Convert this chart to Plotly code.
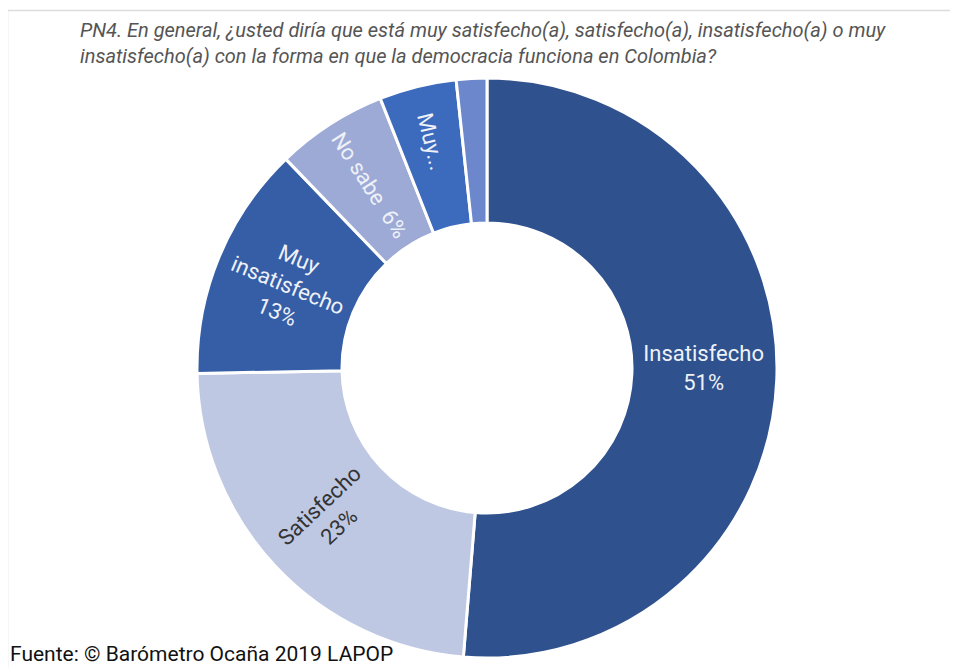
import plotly.graph_objects as go

# page body adds an 8px offset, so figure coordinates are window coordinates minus 8
OFF = 8
W, H = 958 - OFF, 668 - OFF

categories = ["Insatisfecho", "Satisfecho", "Muy insatisfecho", "No sabe", "Muy satisfecho", "No responde"]
values = [51.3, 23.4, 13.1, 6.2, 4.3, 1.7]
display_labels = ["Insatisfecho<br>%{text}", "Satisfecho<br>%{text}", "Muy<br>insatisfecho<br>%{text}",
                  "No sabe  %{text}", "Muy...", ""]
pct_labels = ["51%", "23%", "13%", "6%", "4%", "2%"]
colors = ["#2f518d", "#bec8e3", "#365ea6", "#9eaad6", "#3c6abd", "#6c87cc"]
text_colors = ["#eef1f8", "#333333", "#eef1f8", "#eef1f8", "#eef1f8", "#eef1f8"]

title_text = ("PN4. En general, ¿usted diría que está muy satisfecho(a), satisfecho(a), insatisfecho(a) o muy<br>"
              "insatisfecho(a) con la forma en que la democracia funciona en Colombia?")
source_text = "Fuente: © Barómetro Ocaña 2019 LAPOP"

cx, cy, R = 487 - OFF, 368 - OFF, 290


def px(x):
    return (x - OFF) / W


def py(y):
    return 1 - (y - OFF) / H


fig = go.Figure(go.Pie(
    labels=categories,
    values=values,
    text=pct_labels,
    texttemplate=display_labels,
    hole=0.5,
    sort=False,
    direction="clockwise",
    rotation=0,
    textinfo="text",
    textposition="inside",
    insidetextorientation="radial",
    marker=dict(colors=colors, line=dict(color="white", width=3)),
    textfont=dict(family="Roboto", size=22, color=text_colors),
    showlegend=False,
    domain=dict(x=[(cx - R) / W, (cx + R) / W], y=[1 - (cy + R) / H, 1 - (cy - R) / H]),
))

fig.update_layout(
    width=W, height=H,
    margin=dict(l=0, r=0, t=0, b=0),
    paper_bgcolor="white",
    plot_bgcolor="white",
    shapes=[
        dict(type="line", xref="paper", yref="paper", x0=px(7), x1=1, y0=py(10.5), y1=py(10.5),
             line=dict(color="#dcdcdc", width=1.5)),
        dict(type="line", xref="paper", yref="paper", x0=px(7.5), x1=px(7.5), y0=0, y1=py(10),
             line=dict(color="#dcdcdc", width=1.5)),
    ],
    annotations=[
        dict(text="<i>" + title_text + "</i>", xref="paper", yref="paper", x=px(78), y=py(16),
             xanchor="left", yanchor="top", showarrow=False, align="left",
             font=dict(family="Liberation Sans Narrow, Roboto", size=20, color="#555555")),
        dict(text=source_text, xref="paper", yref="paper", x=px(8), y=py(668),
             xanchor="left", yanchor="bottom", showarrow=False, align="left",
             font=dict(family="Roboto", size=21, color="#111111")),
    ],
)

fig.write_html("out.html")
